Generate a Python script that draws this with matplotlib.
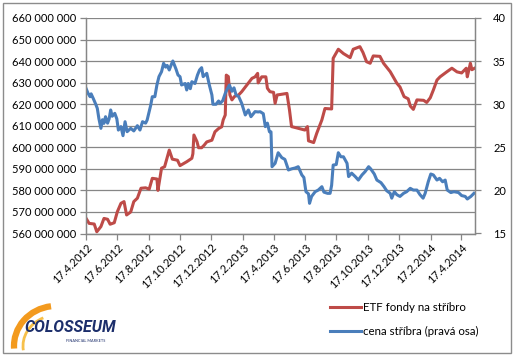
import matplotlib
matplotlib.use("Agg")
import matplotlib.pyplot as plt
import numpy as np
import pandas as pd
from matplotlib.patches import Rectangle, Arc
from matplotlib.ticker import FuncFormatter

START = "2012-04-17"

# ETF holdings (left axis) - days since 17.4.2012 and values
etf_days = [0, 6, 16, 21, 29, 35, 42, 47, 55, 61, 68, 74, 79, 87, 93, 100, 107, 116, 123, 129,
            138, 140, 147, 153, 162, 168, 178, 183, 196, 206, 208, 210, 216, 219, 225, 230, 235,
            245, 251, 258, 264, 267, 271, 273, 277, 280, 284, 289, 297, 303, 313, 323, 329, 334,
            335, 342, 350, 353, 358, 365, 368, 372, 378, 391, 396, 400, 410, 426, 431, 433, 443,
            449, 459, 465, 478, 481, 491, 501, 514, 520, 533, 539, 546, 553, 559, 572, 579, 592,
            605, 611, 619, 627, 631, 637, 644, 657, 663, 670, 676, 683, 689, 702, 712, 722, 731,
            740, 742, 748, 751, 757]
etf_vals = [567.1, 564.7, 564.4, 560.8, 563.2, 567.0, 566.6, 564.3, 565.0, 570.1, 574.0, 574.8,
            568.6, 570.0, 574.8, 576.4, 581.0, 581.2, 580.6, 585.6, 585.3, 580.0, 590.3, 591.0,
            598.7, 594.5, 594.0, 591.5, 593.3, 594.9, 597.0, 605.7, 602.6, 599.8, 599.8, 601.0,
            602.5, 603.3, 607.2, 608.7, 609.5, 612.7, 615.0, 633.5, 632.8, 624.3, 622.0, 623.6,
            624.3, 625.8, 628.9, 632.0, 632.7, 634.3, 629.9, 632.7, 632.7, 627.4, 625.8, 625.5,
            620.4, 624.3, 624.5, 625.0, 617.3, 609.6, 609.0, 608.0, 609.6, 603.0, 602.2, 606.5,
            612.7, 618.0, 617.8, 641.3, 645.5, 643.5, 641.6, 645.5, 646.7, 644.0, 639.7, 639.0,
            642.4, 642.2, 639.0, 635.1, 629.7, 628.0, 623.5, 622.5, 619.2, 617.6, 622.0, 621.8,
            620.8, 623.0, 626.6, 631.2, 632.7, 635.0, 636.7, 635.0, 634.5, 636.7, 632.7, 639.0,
            636.0, 636.8]

# silver price (right axis) - days since 17.4.2012 and values
ag_days = [0, 4, 8, 10, 14, 19, 22, 25, 29, 32, 35, 38, 42, 45, 48, 51, 56, 60, 63, 68, 72, 76,
           80, 87, 93, 100, 105, 110, 116, 119, 126, 129, 134, 138, 142, 147, 151, 155, 158, 162,
           166, 169, 175, 179, 183, 186, 193, 196, 199, 203, 206, 212, 217, 221, 225, 228, 235,
           240, 245, 247, 253, 258, 261, 266, 271, 274, 279, 284, 288, 292, 297, 303, 310, 316,
           321, 329, 335, 339, 345, 349, 353, 357, 360, 362, 368, 374, 381, 387, 394, 400, 407,
           413, 420, 424, 428, 433, 435, 439, 446, 452, 459, 463, 470, 475, 478, 481, 487, 491,
           496, 501, 508, 511, 517, 524, 530, 537, 543, 550, 554, 561, 566, 574, 580, 585, 592,
           595, 600, 605, 611, 618, 624, 631, 637, 644, 650, 656, 660, 666, 671, 676, 683, 688,
           694, 699, 703, 710, 716, 725, 731, 738, 742, 749, 755]
ag_vals = [31.84, 31.26, 30.87, 31.2, 30.68, 29.99, 29.52, 28.36, 27.2, 28.2, 27.78, 28.55,
           27.8, 28.3, 29.33, 28.6, 28.94, 28.3, 27.0, 27.4, 26.35, 27.97, 26.81, 27.2, 26.9,
           27.51, 27.0, 27.97, 27.8, 28.17, 29.9, 30.87, 30.87, 32.23, 33.2, 33.77, 34.74, 34.3,
           34.5, 33.97, 34.6, 35.01, 34.1, 33.39, 33.19, 32.23, 32.4, 31.65, 32.4, 31.8, 32.61,
           32.4, 33.39, 33.97, 34.24, 33.2, 33.58, 32.23, 31.07, 29.99, 29.99, 30.37, 30.1, 30.4,
           31.26, 31.65, 32.23, 31.5, 31.9, 31.07, 30.9, 30.1, 28.75, 29.33, 28.55, 29.14, 29.1,
           29.13, 28.9, 27.4, 27.8, 26.8, 26.8, 22.75, 23.14, 24.37, 23.8, 23.6, 22.37, 22.5,
           22.6, 22.75, 21.79, 21.5, 19.85, 19.6, 18.5, 19.3, 19.85, 20.04, 20.43, 19.8, 19.66,
           19.66, 20.6, 22.94, 23.0, 24.37, 23.9, 23.9, 23.14, 21.6, 22.0, 21.6, 21.2, 21.79,
           22.17, 22.75, 22.5, 21.9, 21.2, 20.9, 20.43, 19.97, 19.66, 19.1, 19.85, 19.5, 19.3,
           19.66, 19.85, 20.24, 20.04, 20.04, 19.5, 19.1, 19.66, 21.0, 21.9, 21.79, 21.2, 21.4,
           21.0, 21.2, 20.04, 19.75, 19.85, 19.75, 19.4, 19.3, 19.0, 19.3, 19.66]

series_names = ["ETF fondy na stříbro", "cena stříbra (pravá osa)"]
left_ticks = np.arange(560, 661, 10)
right_ticks = np.arange(15, 41, 5)

RED = "#BE4B48"
BLUE = "#4A7EBB"
GRID = "#868686"
FONT = ["Lato", "DejaVu Sans"]
FS = 8.0

plt.rcParams["font.family"] = FONT
plt.rcParams["font.size"] = FS

fig = plt.figure(figsize=(5.14, 3.59), dpi=100)
fig.patch.set_facecolor("white")

# outer chart border
fig.add_artist(Rectangle((3 / 514, 1 - 353 / 359), 508 / 514, 350 / 359,
                         transform=fig.transFigure, fill=False, edgecolor="#8C8C8C", lw=1.0))

ax = fig.add_axes([86 / 514, 1 - 233.5 / 359, (475 - 86) / 514, (233.5 - 18) / 359])
ax2 = ax.twinx()

start = pd.Timestamp(START)
etf_dates = start + pd.to_timedelta(etf_days, unit="D")
ag_dates = start + pd.to_timedelta(ag_days, unit="D")

l1, = ax.plot(etf_dates, etf_vals, color=RED, lw=2.2, solid_joinstyle="round")
l2, = ax2.plot(ag_dates, ag_vals, color=BLUE, lw=2.2, solid_joinstyle="round")

ax.set_ylim(left_ticks[0], left_ticks[-1])
ax.set_yticks(left_ticks)
ax.yaxis.set_major_formatter(FuncFormatter(lambda v, p: f"{int(v):d} 000 000"))
ax2.set_ylim(right_ticks[0], right_ticks[-1])
ax2.set_yticks(right_ticks)

x0 = start
x1 = start + pd.Timedelta(days=757)
ax.set_xlim(x0, x1)
xt = pd.date_range(START, "2014-04-17", freq=pd.DateOffset(months=2))
ax.set_xticks(xt)
ax.set_xticklabels([f"{d.day}.{d.month}.{d.year}" for d in xt], rotation=45, ha="right",
                   rotation_mode="anchor")

ax.grid(axis="y", color=GRID, lw=0.9)
ax.set_axisbelow(True)
for a in (ax, ax2):
    a.spines["top"].set_visible(False)
    for s in ("left", "right", "bottom"):
        a.spines[s].set_color(GRID)
        a.spines[s].set_linewidth(0.9)
    a.tick_params(colors=GRID, labelcolor="#000000", length=4, width=0.9, labelsize=FS)
ax.tick_params(axis="y", pad=3)
ax.tick_params(axis="x", pad=2)
ax2.tick_params(axis="y", pad=9)

fig.legend([l1, l2], series_names, loc="upper left", bbox_to_anchor=(330 / 514, 1 - 302 / 359),
           frameon=False, handlelength=2.7, handletextpad=0.15, labelspacing=1.15, fontsize=8.3,
           borderaxespad=0, borderpad=0)

# logo
fig.add_artist(Arc((56 / 514, 1 - 346 / 359), 84 / 514, 80 / 359, theta1=95, theta2=185,
                   transform=fig.transFigure, color="#F39A1E", lw=4.5))
fig.add_artist(Arc((58 / 514, 1 - 346 / 359), 70 / 514, 62 / 359, theta1=110, theta2=190,
                   transform=fig.transFigure, color="#F7C04A", lw=2))
fig.text(70 / 514, 1 - 327.5 / 359, "COLOSSEUM", ha="center", va="center", fontsize=11.5,
         fontweight="bold", style="italic", color="#1C2E6B", family=["Roboto", "DejaVu Sans"],
         stretch="condensed")
fig.text(86 / 514, 1 - 341.5 / 359, "FINANCIAL MARKETS", ha="center", va="center", fontsize=2.8,
         color="#1C2E6B")

fig.savefig("out.png", dpi=100)
